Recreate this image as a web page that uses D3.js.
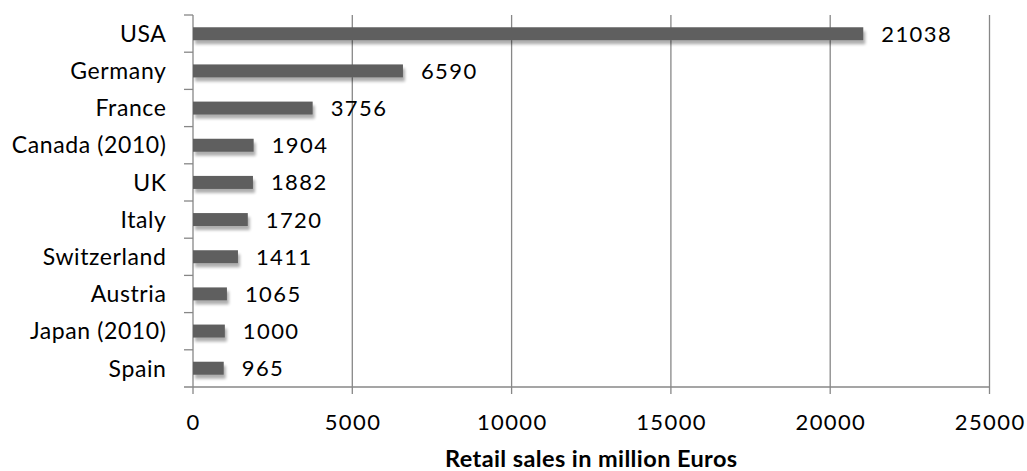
<!DOCTYPE html>
<html><head><meta charset="utf-8">
<script src="https://cdn.jsdelivr.net/npm/d3@7"></script>
<style>body{margin:0;background:#fff}svg{display:block}text{font-family:Lato,"Open Sans",sans-serif}</style>
</head><body><svg id="c" width="1027" height="471"></svg>
<script>
const categories = ["USA","Germany","France","Canada (2010)","UK","Italy","Switzerland","Austria","Japan (2010)","Spain"];
const values = [21038,6590,3756,1904,1882,1720,1411,1065,1000,965];
const xTicks = [0,5000,10000,15000,20000,25000];
const xTitle = "Retail sales in million Euros";

const svg = d3.select("#c");
const m = {l:193, r:1027-989.5, t:15, b:471-387};
const W = 1027, H = 471;
const x = d3.scaleLinear().domain([0,25000]).range([m.l, W-m.r]);
const y = d3.scaleBand().domain(categories).range([m.t, H-m.b]).paddingInner(0.65).paddingOuter(0.33);
const yb = d3.scaleBand().domain(categories).range([m.t, H-m.b]);
const axisCol = "#878787";

const defs = svg.append("defs");
const f = defs.append("filter").attr("id","sh").attr("x","-5%").attr("y","-50%").attr("width","120%").attr("height","260%");
f.append("feGaussianBlur").attr("in","SourceAlpha").attr("stdDeviation",1.8).attr("result","b");
f.append("feOffset").attr("in","b").attr("dx",1.5).attr("dy",4).attr("result","o");
f.append("feComponentTransfer").attr("in","o").attr("result","o2").append("feFuncA").attr("type","linear").attr("slope",0.32);
const mg = f.append("feMerge"); mg.append("feMergeNode").attr("in","o2"); mg.append("feMergeNode").attr("in","SourceGraphic");

// gridlines + bottom ticks
svg.append("g").selectAll("line").data(xTicks.filter(d=>d>0)).join("line")
  .attr("x1",d=>x(d)).attr("x2",d=>x(d)).attr("y1",m.t).attr("y2",H-m.b+7)
  .attr("stroke",axisCol).attr("stroke-width",1.3);
// x axis line
svg.append("line").attr("x1",x(0)-9).attr("x2",x(25000)).attr("y1",H-m.b).attr("y2",H-m.b).attr("stroke",axisCol).attr("stroke-width",1.3);
// y axis line
svg.append("line").attr("x1",x(0)).attr("x2",x(0)).attr("y1",m.t).attr("y2",H-m.b+7).attr("stroke",axisCol).attr("stroke-width",1.3);
// y ticks at band boundaries
svg.append("g").selectAll("line").data(categories).join("line")
  .attr("x1",x(0)-9).attr("x2",x(0)).attr("y1",d=>yb(d)).attr("y2",d=>yb(d)).attr("stroke",axisCol).attr("stroke-width",1.3);

// bars
svg.append("g").selectAll("rect").data(values).join("rect")
  .attr("x",x(0)).attr("y",(d,i)=>y(categories[i])).attr("width",d=>x(d)-x(0)).attr("height",y.bandwidth())
  .attr("fill","#5f5f5f").attr("filter","url(#sh)");

// value labels
svg.append("g").selectAll("text").data(values).join("text")
  .attr("x",d=>x(d)+18).attr("y",(d,i)=>y(categories[i])+y.bandwidth()/2).attr("dy","0.36em")
  .attr("font-size",22).attr("letter-spacing",1.4).attr("fill","#000").text(d=>d);

// category labels
svg.append("g").selectAll("text").data(categories).join("text")
  .attr("x",x(0)-26.5).attr("y",d=>yb(d)+yb.bandwidth()/2).attr("dy","0.36em").attr("text-anchor","end")
  .attr("font-size",23).attr("letter-spacing",0.6).attr("fill","#000").text(d=>d);

// x tick labels
svg.append("g").selectAll("text").data(xTicks).join("text")
  .attr("x",d=>x(d)+0.7).attr("y",422).attr("dy","0.36em").attr("text-anchor","middle")
  .attr("font-size",22).attr("letter-spacing",1.4).attr("fill","#000").text(d=>d);

svg.append("text").attr("x",(x(0)+x(25000))/2).attr("y",467).attr("text-anchor","middle")
  .attr("font-size",23.5).attr("letter-spacing",0.4).attr("font-weight","bold").attr("fill","#000").text(xTitle);
</script></body></html>
